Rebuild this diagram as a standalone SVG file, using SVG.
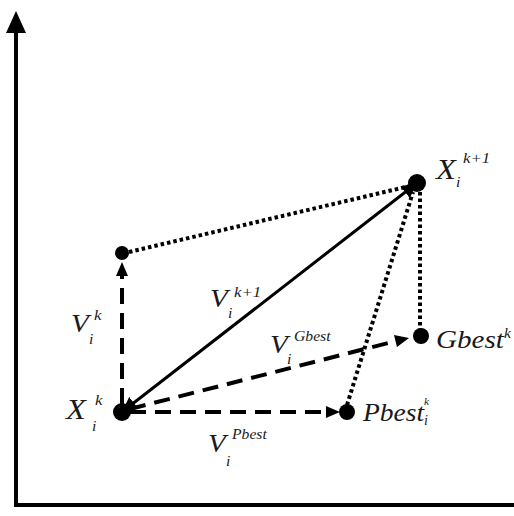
<svg xmlns="http://www.w3.org/2000/svg" width="514" height="516" viewBox="0 0 514 516">
<defs>
<style>
.ax{stroke:#000;stroke-width:4;fill:none}
.sol{stroke:#000;stroke-width:3;fill:none}
.dash{stroke:#000;stroke-width:4;fill:none;stroke-dasharray:16 9}
.dot{stroke:#000;stroke-width:4;fill:none;stroke-dasharray:3.5 3}
.pt{fill:#000}
text{font-family:"Liberation Serif","Times New Roman",serif;font-style:italic;fill:#1a1a1a}
.m{font-size:26px}
.x{font-size:29px}
.s{font-size:15px}
.b{font-size:14px}
</style>
<marker id="ah2" viewBox="0 0 10 10" refX="10" refY="5" markerWidth="5" markerHeight="5" orient="auto-start-reverse" markerUnits="strokeWidth"><path d="M0,0 L10,5 L0,10 z" fill="#000"/></marker>
</defs>
<rect width="514" height="516" fill="#fff"/>
<g id="axes">
<line class="ax" x1="16" y1="30" x2="16" y2="507"/>
<line class="ax" x1="14" y1="505" x2="514" y2="505"/>
<path d="M16,11 L26,33 L6,33 z" fill="#000"/>
</g>
<g id="connectors">
<line class="dash" x1="122" y1="404" x2="122" y2="274"/>
<path d="M122,262 L128,276 L116,276 z" fill="#000"/>
<line class="dash" x1="130" y1="412" x2="326" y2="412"/>
<path d="M340,412 L326,406 L326,418 z" fill="#000"/>
<line class="dash" x1="130" y1="409" x2="396" y2="341"/>
<path d="M409,338 L394,335 L397,347 z" fill="#000"/>
<line class="sol" x1="122" y1="412" x2="417" y2="183" marker-start="url(#ah2)" marker-end="url(#ah2)"/>
<line class="dot" x1="129" y1="252" x2="410" y2="186"/>
<line class="dot" x1="347" y1="405" x2="413" y2="192"/>
<line class="dot" x1="420" y1="192" x2="420" y2="330"/>
</g>
<g id="xk1">
<circle class="pt" cx="417" cy="183" r="9"/>
<text class="x" transform="translate(436,179) scale(1.12,1)">X</text>
<text class="s" transform="translate(463,163) scale(1.12,1)">k+1</text>
<text class="b" transform="translate(456,187) scale(1.12,1)">i</text>
</g>
<g id="vtop">
<circle class="pt" cx="122" cy="253" r="7"/>
</g>
<g id="vk">
<text class="m" transform="translate(71,332) scale(1.12,1)">V</text>
<text class="s" transform="translate(94,320) scale(1.12,1)">k</text>
<text class="b" transform="translate(89,344) scale(1.12,1)">i</text>
</g>
<g id="vk1">
<text class="m" transform="translate(210,307) scale(1.12,1)">V</text>
<text class="s" transform="translate(234,297) scale(1.12,1)">k+1</text>
<text class="b" transform="translate(228,318) scale(1.12,1)">i</text>
</g>
<g id="vgbest">
<text class="m" transform="translate(270,353) scale(1.12,1)">V</text>
<text class="b" transform="translate(294,341) scale(1.12,1)">Gbest</text>
<text class="b" transform="translate(287,364) scale(1.12,1)">i</text>
</g>
<g id="gbest">
<circle class="pt" cx="421" cy="336" r="8"/>
<text class="m" transform="translate(436,348) scale(1.12,1)">Gbest</text>
<text class="b" transform="translate(504,338) scale(1.12,1)">k</text>
</g>
<g id="xk">
<circle class="pt" cx="122" cy="412" r="9"/>
<text class="x" transform="translate(66,419) scale(1.12,1)">X</text>
<text class="s" transform="translate(95,405) scale(1.12,1)">k</text>
<text class="b" transform="translate(92,431) scale(1.12,1)">i</text>
</g>
<g id="pbest">
<circle class="pt" cx="347" cy="412" r="8"/>
<text class="m" transform="translate(363,421) scale(1.06,1)">Pbest</text>
<text class="b" transform="translate(424,405) scale(0.8,0.8)">k</text>
<text class="b" transform="translate(424,425)">i</text>
</g>
<g id="vpbest">
<text class="m" transform="translate(208,452) scale(1.12,1)">V</text>
<text class="b" transform="translate(232,439) scale(1.12,1)">Pbest</text>
<text class="b" transform="translate(226,466) scale(1.12,1)">i</text>
</g>
</svg>
